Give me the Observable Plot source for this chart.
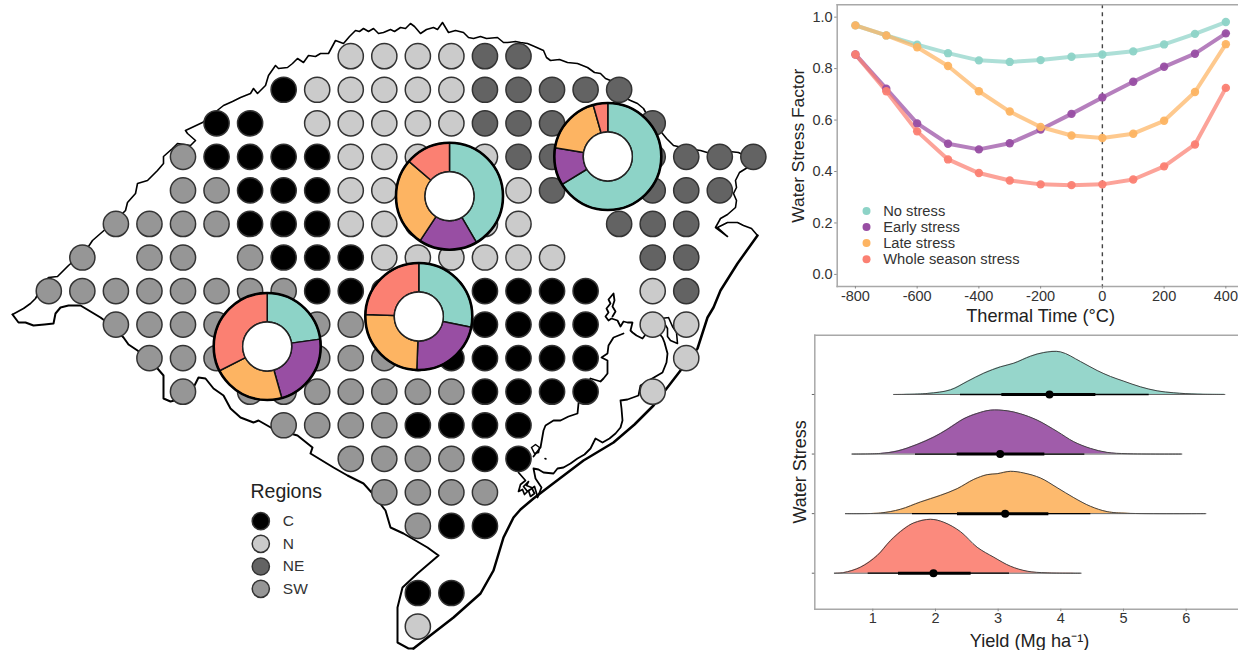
<!DOCTYPE html>
<html>
<head>
<meta charset="utf-8">
<script src="https://cdn.jsdelivr.net/npm/d3@7"></script>
<script src="https://cdn.jsdelivr.net/npm/@observablehq/plot@0.6"></script>
<style>
html,body{margin:0;padding:0;background:#fff;overflow:hidden}
#page{position:relative;width:1238px;height:650px;overflow:hidden}
#page>div{position:absolute}
svg{display:block}
</style>
</head>
<body>
<div id="page"><div id="map" style="left:0;top:0"></div><div id="lines" style="left:780px;top:0"></div><div id="ridge" style="left:780px;top:325px"></div></div>
<script>
// ---------- shared categories ----------
const stress = ["No stress","Early stress","Late stress","Whole season stress"];
const stressColors = ["#8DD3C7","#984EA3","#FDB462","#FB8072"];
const regions = ["C","N","NE","SW"];
const regionColors = ["#000000","#CBCBCB","#636363","#969696"];

// ---------- map: region of each grid cell (C, N, E = NE, S = SW), row by row ----------
const gridRows = [
  ".........NNNNEE",
  ".......CNNNNNEEEEE",
  ".....CC.NNNNNEEEEEE",
  "....SCCCCNNNNNEEEEEEEE",
  "....SSCCCNNNNNNEEEEEE",
  "..SSSSCCCNNNNNN..EEE",
  ".S.SS.SCCCNNNNNN..EE",
  "SSSSSSSSCCCCCCCCC.NE",
  "..SSSSSSSSSSSCCCC.NN",
  "...SSSSSSSSSCCCCC..N",
  "....S.SSSSSSSCCCC.N",
  ".......SSSSCCCC",
  ".........SSSSCC",
  "..........SSSS",
  "...........SCC",
  "",
  "...........CC",
  "...........N"
];
const gridOrigin = [48.3, 55.7];
const gridStep = 33.55;

// ---------- map: outline in map units ----------
const borderNorth = [[12,314],[23,308],[30,303],[35,298],[42,285],[48,277],[57,276],[68,265],[82,253],[88,246],[92,240],[100,233],[115,220],[125,210],[127,202],[135,193],[137,183],[147,180],[157,170],[163,163],[163,156],[172,148],[177,143],[190,145],[195,140],[187,133],[185,130],[202,122],[213,113],[223,105],[232,101],[240,97],[250,93],[253,88],[257,93],[265,85],[268,75],[275,65],[278,68],[287,67],[292,63],[297,58],[303,62],[308,55],[315,56],[320,53],[328,53],[335,40],[343,43],[349,36],[355,30],[359,31],[363,28],[368,31],[373,28],[378,33],[383,32],[390,29],[394,31],[400,27],[405,28],[410,23],[414,26],[420,33],[426,29],[433,27],[437,29],[442,22],[445,27],[448,32],[455,30],[463,32],[468,37],[473,38],[480,36],[486,38],[497,37],[503,42],[507,42],[515,41],[520,42],[527,43],[534,46],[543,50],[546,57],[550,60],[559,59],[567,62],[577,63],[587,67],[594,72],[600,73],[605,78],[610,80],[619,89],[626,98],[630,100],[637,103],[643,108],[648,117],[657,127],[666,138],[673,145],[686,148],[700,150],[710,153],[720,152],[729,151],[738,152],[746,156],[747,167],[739,172],[735,180],[736,187],[733,193],[736,200],[735,207],[727,214],[720,218],[715,227],[727,236],[717,227],[727,222],[737,222],[743,225],[751,228],[757,235]];
const coast = [[757,235],[737,263],[720,290],[713,307],[707,317],[697,348],[680,370],[670,383],[653,405],[634,424],[613,442],[583,460],[550,485],[533,498],[520,509],[513,517],[503,537],[493,570],[480,593],[453,617],[413,648]];
const borderSouth = [[413,648],[408,648],[397,642],[397,607],[402,587],[417,573],[438,555],[427,547],[403,533],[390,527],[385,510],[372,493],[363,483],[347,475],[333,467],[310,453],[312,447],[297,435],[272,428],[258,420],[253,422],[240,417],[230,408],[223,395],[213,388],[205,378],[198,377],[193,387],[182,398],[170,401],[163,398],[163,375],[157,368],[150,360],[137,350],[128,344],[123,337],[112,326],[100,317],[90,311],[80,305],[68,305],[60,307],[55,313],[53,323],[44,324],[33,325],[25,322],[18,322],[15,318],[12,314]];
const lagoonEast = [[537,497],[541,487],[535,478],[533,468],[538,469],[543,472],[553,473],[557,468],[563,467],[570,463],[577,458],[584,454],[590,448],[593,442],[595,438],[602,442],[609,438],[615,433],[620,427],[622,420],[621,408],[620,400],[627,399],[638,395],[640,385],[650,379],[662,372],[666,362],[667,353],[664,342],[662,337],[652,325],[642,338],[636,335],[632,332],[630,330],[632,322],[627,322],[623,321],[620,326],[617,320],[611,318],[608,320],[605,316],[608,312],[606,308],[610,303],[608,299],[613,293],[614,300],[612,306],[615,311],[612,316]];
const lagoonWest = [[623,333],[613,337],[608,345],[607,353],[601,357],[607,360],[607,373],[603,378],[600,381],[590,378],[578,403],[577,413],[568,416],[560,420],[553,420],[545,425],[543,430],[540,447],[536,452],[533,456]];
const island = [[668,317],[661,318],[667,328],[667,336],[670,340],[677,343],[676,332],[672,326],[668,317]];
const tangle = [[518,472],[525,480],[520,484],[518,491],[522,489],[524,494],[528,490],[530,496],[534,493],[531,487],[526,485],[528,481],[523,486],[527,491],[534,486],[537,496]];
const ringSmall = [[531,447],[535,444],[539,447],[538,452],[534,453],[531,447]];
const speck = [[544.5,458],[545.5,458.5]];

// ---------- map: donuts (shares clockwise in stress order) ----------
const donutNames = ["NE","N","C","SW"];
const donutX = [607.3,449,418.3,266.7];
const donutY = [156,195.7,316,346];
const donutShares = [
  [66.3,11.3,18.0,4.4],
  [41.6,17.7,27.0,13.7],
  [28.2,22.4,25.0,24.4],
  [22.8,22.8,21.9,32.5]
];
const legendCol = 260.3, legendLabelCol = 282.3;
const legendRowY = [520.7,543.3,566,588.3];

// ---------- line chart ----------
const thermalTime = [-800,-700,-600,-500,-400,-300,-200,-100,0,100,200,300,400];
const noStress = [.968,.929,.893,.860,.832,.826,.833,.846,.855,.867,.894,.935,.981];
const earlyStress = [.855,.722,.587,.508,.486,.510,.563,.624,.688,.749,.807,.858,.937];
const lateStress = [.968,.929,.883,.810,.712,.633,.573,.540,.530,.547,.597,.709,.895];
const wholeStress = [.855,.712,.556,.447,.394,.365,.350,.347,.350,.369,.420,.505,.725];
const legendY = [.246,.184,.122,.059];

// ---------- ridgeline densities (height in rows) ----------
const noYield = [1.335,1.867,2.239,2.505,2.771,3.037,3.25,3.516,3.729,3.995,4.314,4.58,4.793,5.005,5.271,5.537,5.803,6.176,6.617];
const noDens  = [0,.017,.078,.218,.358,.464,.525,.642,.704,.715,.553,.402,.302,.223,.128,.061,.028,.006,0];
const earlyYield = [.67,1.122,1.388,1.707,1.973,2.186,2.452,2.665,2.878,3.144,3.356,3.622,3.941,4.207,4.473,4.739,5.059,5.931];
const earlyDens  = [0,.011,.05,.162,.285,.413,.592,.682,.737,.726,.676,.57,.38,.207,.095,.028,.006,0];
const lateYield = [.564,1.122,1.441,1.761,2.08,2.346,2.612,2.824,2.984,3.197,3.41,3.676,3.941,4.207,4.473,4.739,5.059,6.314];
const lateDens  = [0,.011,.073,.196,.307,.419,.575,.654,.670,.71,.682,.598,.436,.268,.123,.034,.006,0];
const wholeYield = [.388,.537,.803,1.069,1.282,1.495,1.654,1.92,2.133,2.399,2.665,2.931,3.197,3.463,3.782,4.324];
const wholeDens  = [0,.011,.101,.296,.547,.743,.844,.905,.855,.698,.436,.268,.117,.034,.006,0];
const intervalThinLo = [2.399,1.681,1.633,.926];
const intervalThinHi = [5.41,4.383,4.479,3.181];
const intervalThickLo = [3.059,2.346,2.351,1.41];
const intervalThickHi = [4.559,3.745,3.809,2.569];
const medians = [3.819,3.032,3.112,1.968];
const ridgeRow = [3,2,1,0];

// ---------- tables ----------
const regionOf = {C:"C",N:"N",E:"NE",S:"SW"};
const gridCells = [];
gridRows.forEach((row,r)=>[...row].forEach((ch,c)=>{
  if (ch!=="." ) gridCells.push({x:gridOrigin[0]+gridStep*c,y:gridOrigin[1]+gridStep*r,region:regionOf[ch]});
}));

const rOuter = 53.5, rInner = 24.5;
const slicePts = [];
donutShares.forEach((shares,d)=>{
  let acc = 0;
  shares.forEach((s,i)=>{
    const a0 = acc/100*2*Math.PI, a1 = (acc+s)/100*2*Math.PI;
    acc += s;
    const n = Math.max(2,Math.ceil(s*1.5));
    const id = donutNames[d]+i;
    for (let k=0;k<=n;k++){const a=a0+(a1-a0)*k/n;slicePts.push({id,stress:stress[i],x:donutX[d]+rOuter*Math.sin(a),y:donutY[d]-rOuter*Math.cos(a)});}
    for (let k=n;k>=0;k--){const a=a0+(a1-a0)*k/n;slicePts.push({id,stress:stress[i],x:donutX[d]+rInner*Math.sin(a),y:donutY[d]-rInner*Math.cos(a)});}
  });
});
const donutCenters = donutNames.map((n,i)=>({n,x:donutX[i],y:donutY[i]}));

const colorScale = {domain:[...stress,...regions],range:[...stressColors,...regionColors]};
const font = "'Liberation Sans',Arial,sans-serif";
const px = d=>d[0], py = d=>d[1];
const trace = (arr,w)=>Plot.line(arr,{x:px,y:py,stroke:"#000",strokeWidth:w,strokeLinejoin:"round",strokeLinecap:"round"});
const W=770,H=650;

const mapPlot = Plot.plot({
  width:W,height:H,margin:0,
  style:{fontFamily:font,background:"transparent",overflow:"visible"},
  x:{domain:[0,W],range:[0,W],axis:null},
  y:{domain:[0,H],range:[0,H],axis:null},
  color:colorScale,
  marks:[
    trace(borderNorth,1.6),trace(coast,2.5),trace(borderSouth,2),
    trace(lagoonEast,1.8),trace(lagoonWest,1.8),trace(island,1.6),trace(tangle,1.7),trace(ringSmall,1.5),trace(speck,1.6),
    Plot.dot(gridCells,{x:"x",y:"y",r:12.6,fill:"region",stroke:"#333",strokeWidth:1.5}),
    Plot.line(slicePts,{x:"x",y:"y",z:"id",fill:"stress",stroke:"#111",strokeWidth:1.5,curve:"linear-closed"}),
    Plot.dot(donutCenters,{x:"x",y:"y",r:rOuter,fill:"none",stroke:"#000",strokeWidth:2.6}),
    Plot.dot(donutCenters,{x:"x",y:"y",r:rInner,fill:"#fff",stroke:"#222",strokeWidth:1.4}),
    Plot.text(["Regions"],{x:[250],y:[491],text:d=>d,textAnchor:"start",fontSize:19.5,fill:"#222"}),
    Plot.dot(regions,{x:()=>legendCol,y:(d,i)=>legendRowY[i],r:8.6,fill:d=>d,stroke:"#333",strokeWidth:1.5}),
    Plot.text(regions,{x:()=>legendLabelCol,y:(d,i)=>legendRowY[i],text:d=>d,textAnchor:"start",fontSize:15.5,fill:"#333"})
  ]
});
document.getElementById("map").append(mapPlot);

// ---------- line chart plot ----------
const series = [noStress,earlyStress,lateStress,wholeStress];
const lineData = [];
series.forEach((vals,s)=>vals.forEach((v,i)=>lineData.push({t:thermalTime[i],v,stress:stress[s]})));
const frameColor = "#a8a8a8";
const linesPlot = Plot.plot({
  width:458,height:330,marginLeft:56.7,marginRight:0,marginTop:4.3,marginBottom:44,
  style:{fontFamily:font,background:"transparent",overflow:"visible"},
  x:{domain:[-859,441],label:null},
  y:{domain:[-0.047,1.048],label:null},
  color:colorScale,
  marks:[
    Plot.ruleX([0],{stroke:"#444",strokeWidth:1.4,strokeDasharray:"4,4"}),
    Plot.line(lineData,{x:"t",y:"v",z:"stress",stroke:"stress",strokeWidth:4,strokeOpacity:.72}),
    Plot.dot(lineData,{x:"t",y:"v",r:4.2,fill:"stress",fillOpacity:.95}),
    Plot.frame({anchor:"left",stroke:frameColor,strokeWidth:1.5}),
    Plot.frame({anchor:"top",stroke:frameColor,strokeWidth:1.5}),
    Plot.frame({anchor:"bottom",stroke:frameColor,strokeWidth:1.5}),
    Plot.axisX({ticks:d3.range(-800,401,200),tickSize:2.5,tickPadding:2,fontSize:14.5,label:null,stroke:"#888",color:"#333",tickFormat:d=>String(d)}),
    Plot.axisY({ticks:[0,.2,.4,.6,.8,1],tickSize:2.5,tickPadding:2,fontSize:14.5,label:null,stroke:"#888",color:"#333",tickFormat:d3.format(".1f")}),
    Plot.dot(stress,{x:()=>-764,y:(d,i)=>legendY[i],r:4,fill:d=>d}),
    Plot.text(stress,{x:()=>-710,y:(d,i)=>legendY[i],text:d=>d,textAnchor:"start",fontSize:14.7,fill:"#333"}),
    Plot.text(["Thermal Time (°C)"],{x:[-200],frameAnchor:"bottom",dy:35,text:d=>d,fontSize:18.2,fill:"#222"}),
    Plot.text(["Water Stress Factor"],{y:[.5],frameAnchor:"left",dx:-38.7,rotate:-90,textAnchor:"middle",text:d=>d,fontSize:17.4,fill:"#222"})
  ]
});
document.getElementById("lines").append(linesPlot);

// ---------- ridgeline plot ----------
const yields = [noYield,earlyYield,lateYield,wholeYield];
const dens = [noDens,earlyDens,lateDens,wholeDens];
const ridgeData = [];
yields.forEach((ys,s)=>ys.forEach((y,i)=>ridgeData.push({x:y,base:ridgeRow[s],top:ridgeRow[s]+dens[s][i],stress:stress[s]})));
const intervals = stress.map((st,i)=>({st,row:ridgeRow[i],lo:intervalThinLo[i],hi:intervalThinHi[i],lo2:intervalThickLo[i],hi2:intervalThickHi[i],med:medians[i]}));
const baselines = stress.map((st,i)=>({row:ridgeRow[i],lo:yields[i][0],hi:yields[i][yields[i].length-1]}));
const ridgePlot = Plot.plot({
  width:458,height:325,marginLeft:34.3,marginRight:0,marginTop:9.7,marginBottom:41.3,
  style:{fontFamily:font,background:"transparent",overflow:"visible"},
  x:{domain:[.0745,6.835],label:null},
  y:{domain:[-.604,3.995],label:null},
  color:colorScale,
  marks:[
    Plot.areaY(ridgeData,{x:"x",y1:"base",y2:"top",z:"stress",fill:"stress",fillOpacity:.92,curve:"catmull-rom"}),
    Plot.line(ridgeData,{x:"x",y:"top",z:"stress",stroke:"#444",strokeWidth:1,curve:"catmull-rom"}),
    Plot.ruleY(baselines,{y:"row",x1:"lo",x2:"hi",stroke:"#555",strokeWidth:.9}),
    Plot.ruleY(intervals,{y:"row",x1:"lo",x2:"hi",stroke:"#000",strokeWidth:1.3}),
    Plot.ruleY(intervals,{y:"row",x1:"lo2",x2:"hi2",stroke:"#000",strokeWidth:3}),
    Plot.dot(intervals,{x:"med",y:"row",r:4,fill:"#000"}),
    Plot.frame({anchor:"left",stroke:frameColor,strokeWidth:1.5}),
    Plot.frame({anchor:"top",stroke:frameColor,strokeWidth:1.5}),
    Plot.frame({anchor:"bottom",stroke:frameColor,strokeWidth:1.5}),
    Plot.axisX({ticks:[1,2,3,4,5,6],tickSize:2.5,tickPadding:1,fontSize:14.5,label:null,stroke:"#888",color:"#333",tickFormat:d3.format("d")}),
    Plot.axisY({ticks:ridgeRow,tickSize:2.5,tickFormat:()=>"",label:null,stroke:"#666"}),
    Plot.text(["Yield (Mg ha\u207B\u00B9)"],{x:[3.5],frameAnchor:"bottom",dy:38,text:d=>d,fontSize:18.2,fill:"#222"}),
    Plot.text(["Water Stress"],{y:[1.70],frameAnchor:"left",dx:-14.3,rotate:-90,textAnchor:"middle",text:d=>d,fontSize:18,fill:"#222"})
  ]
});
document.getElementById("ridge").append(ridgePlot);
</script>
</body>
</html>
